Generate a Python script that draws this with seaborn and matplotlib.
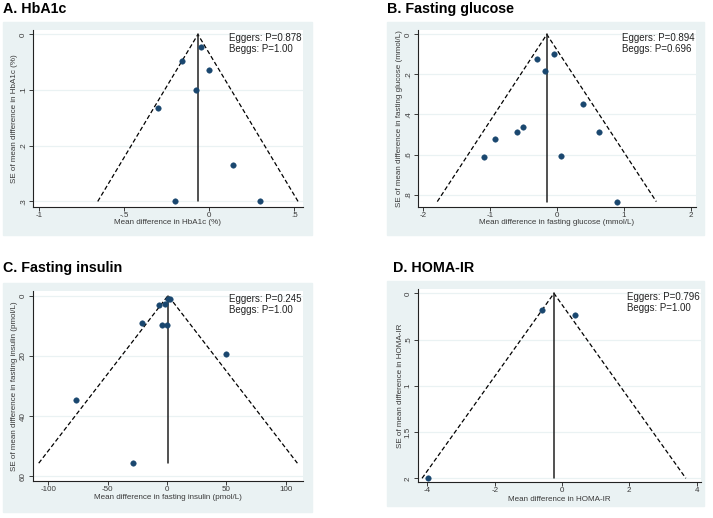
import matplotlib
matplotlib.use("Agg")
import matplotlib.pyplot as plt
import matplotlib.ticker as mticker
import pandas as pd
import seaborn as sns

### Data
hba1c_md = [-0.05, -0.16, 0.00, -0.08, -0.30, 0.14, -0.20, 0.30]
hba1c_se = [0.022, 0.047, 0.064, 0.100, 0.133, 0.234, 0.300, 0.300]
hba1c_pooled = -0.067

glucose_md = [-0.04, -0.30, -0.18, 0.39, -0.50, -0.59, 0.63, -0.92, -1.09, 0.06, 0.90]
glucose_se = [0.100, 0.123, 0.183, 0.347, 0.463, 0.485, 0.485, 0.523, 0.612, 0.608, 0.835]
glucose_pooled = -0.15

insulin_md = [1.0, 2.5, -7.0, -2.0, -21.4, -4.0, -0.3, 49.5, -77.0, -29.0]
insulin_se = [1.0, 1.2, 3.0, 2.8, 9.1, 9.9, 9.9, 19.3, 34.8, 55.6]
insulin_pooled = 0.8

homa_md = [-0.60, 0.40, -3.99]
homa_se = [0.184, 0.231, 2.00]
homa_pooled = -0.24

titles = ["A. HbA1c", "B. Fasting glucose", "C. Fasting insulin", "D. HOMA-IR"]
xlabels = ["Mean difference in HbA1c (%)",
           "Mean difference in fasting glucose (mmol/L)",
           "Mean difference in fasting insulin (pmol/L)",
           "Mean difference in HOMA-IR"]
ylabels = ["SE of mean difference in HbA1c (%)",
           "SE of mean difference in fasting glucose (mmol/L)",
           "SE of mean difference in fasting insulin (pmol/L)",
           "SE of mean difference in HOMA-IR"]
eggers = ["0.878", "0.894", "0.245", "0.796"]
beggs = ["1.00", "0.696", "1.00", "1.00"]
xticks = [[-1, -0.5, 0, 0.5], [-2, -1, 0, 1, 2], [-100, -50, 0, 50, 100], [-4, -2, 0, 2, 4]]
yticks = [[0, 0.1, 0.2, 0.3], [0, 0.2, 0.4, 0.6, 0.8], [0, 20, 40, 60], [0, 0.5, 1, 1.5, 2]]

### Stata s2color look
BG = "#EAF2F3"
NAVY = "#1A476F"
TXT = "#3A3A3A"
W, H = 713, 518

sns.set_style("ticks")
plt.rcParams["font.family"] = ["Liberation Sans", "DejaVu Sans"]


def stata_fmt(v, _pos=None):
    s = f"{v:g}"
    if s.startswith("0."):
        s = s[1:]
    elif s.startswith("-0."):
        s = "-" + s[2:]
    return s


def fig_rect(x0, y0, x1, y1):
    # pixel box (top-left origin) -> figure fractions
    return [x0 / W, 1 - y1 / H, (x1 - x0) / W, (y1 - y0) / H]


# (background box, plot box, title position, xlim, ylim, xlabel y, ylabel x)
layout = [
    ((3, 22, 312, 235), (33, 30, 303, 207), (3, 9), (-1.035, 0.55), (0.310, -0.008), -0.085, -0.070),
    ((387, 22, 704, 235), (418, 30, 696, 207), (387, 9), (-2.075, 2.08), (0.862, -0.022), -0.085, -0.065),
    ((3, 283, 312, 512), (33, 291, 303, 481), (3, 268), (-113, 114.5), (61.5, -1.5), -0.089, -0.070),
    ((387, 281, 704, 506), (418, 289, 701, 482), (393, 268), (-4.28, 4.13), (2.04, -0.047), -0.093, -0.062),
]
panels = [
    (hba1c_md, hba1c_se, hba1c_pooled),
    (glucose_md, glucose_se, glucose_pooled),
    (insulin_md, insulin_se, insulin_pooled),
    (homa_md, homa_se, homa_pooled),
]

fig = plt.figure(figsize=(W / 100, H / 100), dpi=100)
fig.patch.set_facecolor("white")

for i, ((md, se, pooled), (bg, box, tpos, xlim, ylim, xl_y, yl_x)) in enumerate(zip(panels, layout)):
    r = fig_rect(*bg)
    fig.patches.append(plt.Rectangle((r[0], r[1]), r[2], r[3],
                                     transform=fig.transFigure, color=BG, zorder=-5))
    fig.text(tpos[0] / W, 1 - tpos[1] / H, titles[i], fontsize=10.3,
             fontweight="bold", ha="left", va="center", color="black")

    ax = fig.add_axes(fig_rect(*box))
    ax.set_facecolor("white")
    df = pd.DataFrame({"md": md, "se": se})

    # pseudo 95% confidence limits around the pooled estimate
    top = max(se)
    ax.plot([pooled - 1.96 * top, pooled, pooled + 1.96 * top], [top, 0, top],
            color="black", linestyle=(0, (3.5, 2)), linewidth=0.9, zorder=2)
    ax.plot([pooled, pooled], [0, top], color="#222222", linewidth=1.1, zorder=2)
    sns.scatterplot(data=df, x="md", y="se", color=NAVY, s=16,
                    edgecolor=NAVY, linewidth=0.3, ax=ax, zorder=3)

    ax.set_xlim(*xlim)
    ax.set_ylim(*ylim)
    ax.set_xticks(xticks[i])
    ax.set_yticks(yticks[i])
    ax.xaxis.set_major_formatter(mticker.FuncFormatter(stata_fmt))
    ax.yaxis.set_major_formatter(mticker.FuncFormatter(stata_fmt))
    ax.grid(axis="y", color=BG, linewidth=0.9)
    ax.set_axisbelow(True)
    ax.tick_params(labelsize=5.8, colors=TXT, length=2.9, width=0.7)
    ax.tick_params(axis="x", pad=0.5)
    ax.tick_params(axis="y", pad=1.5)
    for lab in ax.get_yticklabels():
        lab.set_rotation(90)
        lab.set_va("center")
    ax.set_xlabel(xlabels[i], fontsize=5.8, color=TXT, va="center")
    ax.set_ylabel(ylabels[i], fontsize=5.8, color=TXT, va="center")
    ax.xaxis.set_label_coords(0.5, xl_y)
    ax.yaxis.set_label_coords(yl_x, 0.5)
    for side in ("top", "right"):
        ax.spines[side].set_visible(False)
    for side in ("left", "bottom"):
        ax.spines[side].set_color("#222222")
        ax.spines[side].set_linewidth(0.8)

    ax.text(0.995, 0.985, f"Eggers: P={eggers[i]}\nBeggs: P={beggs[i]}",
            transform=ax.transAxes, ha="right", va="top", fontsize=7,
            multialignment="left", color="#222222", linespacing=1.15)

fig.savefig("out.png", dpi=100, facecolor="white")
